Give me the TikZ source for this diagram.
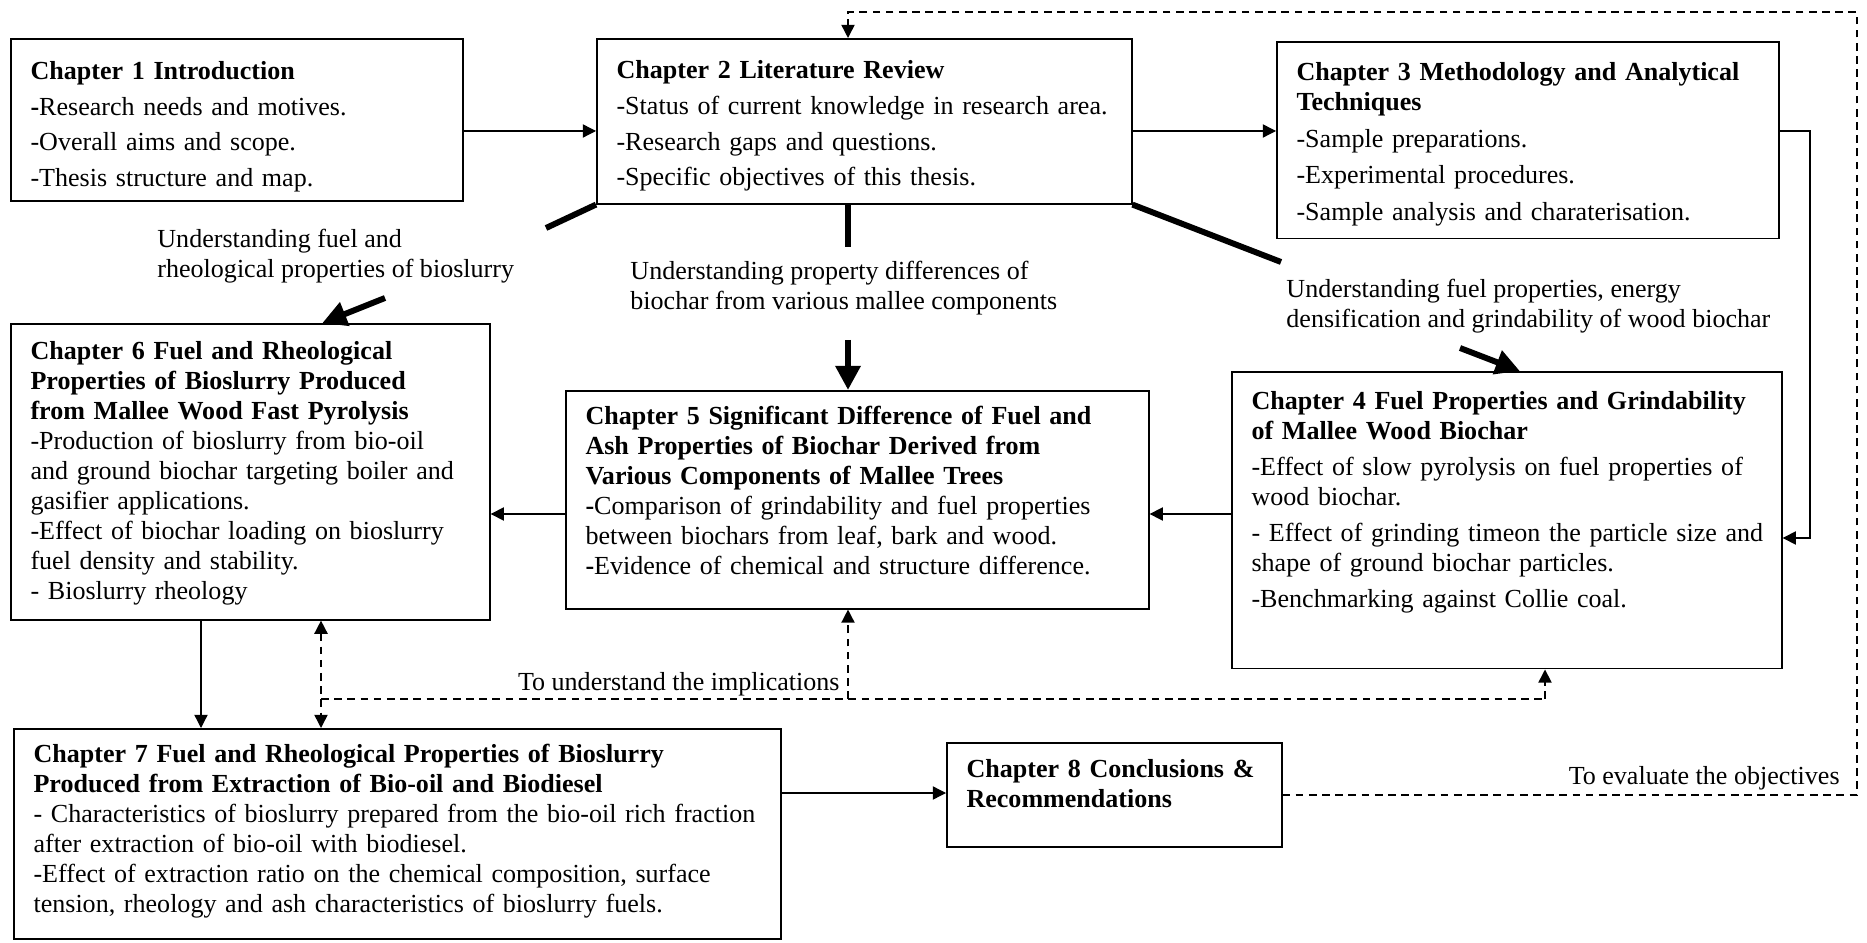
\documentclass[tikz,border=0pt]{standalone}
\usepackage{fontspec}
\setmainfont{Liberation Serif}
\usetikzlibrary{arrows.meta,calc}

\begin{document}
\begin{tikzpicture}[
  x=0.455pt, y=-0.455pt,
  every node/.style={font=\fontsize{11.85pt}{13.65pt}\selectfont},
  chbox/.style={rectangle, draw, line width=0.7pt, anchor=north west, align=left, inner xsep=9pt, inner ysep=0pt, text height=16pt,
    execute at begin node={\rightskip=0pt plus 1fil minus 60pt\relax}},
  note/.style={align=left, inner sep=0pt},
  arrow/.style={line width=0.6pt, -{Triangle[length=6pt,width=6pt]}},
  dashline/.style={line width=0.7pt, dash pattern=on 3.5pt off 2.5pt},
  dasharrow/.style={dashline, -{Triangle[length=6pt,width=6pt]}},
  thickline/.style={line width=2.7pt},
  thickarrow/.style={line width=2.7pt, -{Triangle[length=11pt,width=11pt]}}
]
  \path[use as bounding box, fill=white] (0,0) rectangle (1867,943);

  % Chapters
  \node[chbox, text width=187.7pt, text height=18.7pt, text depth=55pt] (ch1) at (10,38)
    {\textbf{Chapter 1 Introduction}\\[2.5pt]\textbf{-}Research needs and motives.\\[2.5pt]-Overall aims and scope.\\[2.5pt]-Thesis structure and map.};
  \node[chbox, text width=225.4pt, text height=18.2pt, text depth=56.9pt] (ch2) at (596,38)
    {\textbf{Chapter 2 Literature Review}\\[2.6pt]-Status of current knowledge in research area.\\[2.6pt]-Research gaps and questions.\\[2.6pt]-Specific objectives of this thesis.};
  \node[chbox, text width=210.4pt, text height=17.7pt, text depth=71.9pt] (ch3) at (1276,41)
    {\textbf{Chapter 3 Methodology and Analytical}\\\textbf{Techniques}\\[3pt]-Sample preparations.\\[3pt]-Experimental procedures.\\[3pt]-Sample analysis and charaterisation.};
  \node[chbox, text width=232.3pt, text height=17.3pt, text depth=117.8pt] (ch4) at (1231,371)
    {\textbf{Chapter 4 Fuel Properties and Grindability}\\\textbf{of Mallee Wood Biochar}\\[2.7pt]-Effect of slow pyrolysis on fuel properties of\\wood biochar.\\[2.7pt]- Effect of grinding timeon the particle size and\\shape of ground biochar particles.\\[2.7pt]-Benchmarking against Collie coal.};
  \node[chbox, text width=247.3pt, text height=15.5pt, text depth=83.7pt] (ch5) at (565,390)
    {\textbf{Chapter 5 Significant Difference of Fuel and}\\\textbf{Ash Properties of Biochar Derived from}\\\textbf{Various Components of Mallee Trees}\\\textbf{-}Comparison of grindability and fuel properties\\between biochars from leaf, bark and wood.\\\textbf{-}Evidence of chemical and structure difference.};
  \node[chbox, text width=200pt, text height=16.4pt, text depth=118.3pt] (ch6) at (10,323)
    {\textbf{Chapter 6 Fuel and Rheological}\\\textbf{Properties of Bioslurry Produced}\\\textbf{from Mallee Wood Fast Pyrolysis}\\-Production of bioslurry from bio-oil\\and ground biochar targeting boiler and\\gasifier applications.\\-Effect of biochar loading on bioslurry\\fuel density and stability.\\- Bioslurry rheology};
  \node[chbox, text width=331pt, text height=15.5pt, text depth=80.1pt] (ch7) at (13,728)
    {\textbf{Chapter 7 Fuel and Rheological Properties of Bioslurry}\\\textbf{Produced from Extraction of Bio-oil and Biodiesel}\\- Characteristics of bioslurry prepared from the bio-oil rich fraction\\after extraction of bio-oil with biodiesel.\\-Effect of extraction ratio on the chemical composition, surface\\tension, rheology and ash characteristics of bioslurry fuels.};
  \node[chbox, text width=134.4pt, text height=15.9pt, text depth=31.4pt] (ch8) at (946,742)
    {\textbf{Chapter 8 Conclusions \&}\\\textbf{Recommendations}};

  % Labels
  \node[note, anchor=north west] (lab6) at (157,229) {Understanding fuel and\\rheological properties of bioslurry};
  \node[note, anchor=north west] (lab5) at (630,261) {Understanding property differences of\\biochar from various mallee components};
  \node[note, anchor=north west] (lab4) at (1286,279) {Understanding fuel properties, energy\\densification and grindability of wood biochar};
  \node[note, anchor=base east] (implab) at (840,690) {To understand the implications};
  \node[note, anchor=base east] (evallab) at (1840,784) {To evaluate the objectives};

  % Routing points
  \coordinate (toprow) at (0,131);
  \coordinate (midcol) at (848,0);
  \coordinate (row45) at (0,514);
  \coordinate (row78) at (0,793);
  \coordinate (rbend) at (1810,538);
  \coordinate (loopne) at (1857,12);
  \coordinate (implL) at (321,699);
  \coordinate (implR) at (1545,699);
  \coordinate (c67) at (201,0);
  \coordinate (t6a) at (546,228);
  \coordinate (t6b) at (385,298);
  \coordinate (t5a) at (848,247);
  \coordinate (t5b) at (848,340);
  \coordinate (t4a) at (1281,262);
  \coordinate (t4b) at (1460,348);

  % Arrows
  \draw[arrow] (ch1.east |- toprow) -- (ch2.west |- toprow);
  \draw[arrow] (ch2.east |- toprow) -- (ch3.west |- toprow);
  \draw[arrow] (ch3.east |- toprow) -| (rbend) -- (ch4.east |- rbend);
  \draw[arrow] (ch4.west |- row45) -- (ch5.east |- row45);
  \draw[arrow] (ch5.west |- row45) -- (ch6.east |- row45);
  \draw[arrow] (ch6.south -| c67) -- (ch7.north -| c67);
  \draw[arrow] (ch7.east |- row78) -- (ch8.west |- row78);

  \draw[thickline] (ch2.south west) -- (t6a);
  \draw[thickarrow] (t6b) -- ($(ch6.north)+(72,0)$);
  \draw[thickline] (ch2.south -| midcol) -- (t5a);
  \draw[thickarrow] (t5b) -- (ch5.north -| midcol);
  \draw[thickline] (ch2.south east) -- (t4a);
  \draw[thickarrow] (t4b) -- ($(ch4.north)+(13,0)$);

  \draw[dasharrow] (ch8.east) -| (loopne) -| (ch2.north -| midcol);
  \draw[dashline, {Triangle[length=6pt,width=6pt]}-{Triangle[length=6pt,width=6pt]}] (ch6.south -| implL) -- (ch7.north -| implL);
  \draw[dashline] (implL) -- (implR);
  \draw[dasharrow] (implL -| midcol) -- (ch5.south -| midcol);
  \draw[dasharrow] (implR) -- (ch4.south -| implR);

\end{tikzpicture}
\end{document}
